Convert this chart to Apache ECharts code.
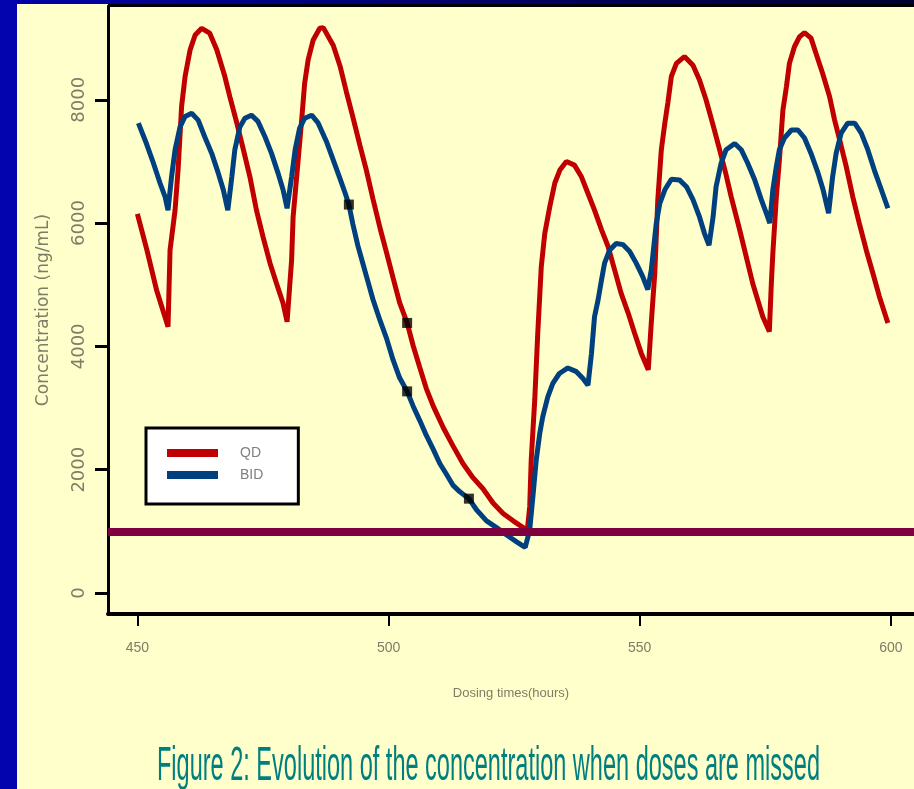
<!DOCTYPE html>
<html>
<head>
<meta charset="utf-8">
<script src="https://cdn.jsdelivr.net/npm/echarts@6/dist/echarts.min.js"></script>
<style>
html, body { margin: 0; padding: 0; background: #FFFFCC; }
#chart { width: 914px; height: 789px; }
</style>
</head>
<body>
<div id="chart"></div>
<script>
// QD (once daily) - hours / concentration
var qdHours = [450.0, 451.9, 453.8, 456.1, 456.5, 457.5, 458.1, 458.8, 459.5, 460.5, 461.5, 462.8, 464.4, 465.8, 467.4, 468.4, 469.8, 471.1, 472.4, 473.7, 475.0, 476.4, 477.7, 479.0, 479.8,
	480.7, 481.0, 482.0, 482.7, 483.3, 484.0, 485.0, 486.3, 487.0, 489.0, 490.4, 491.6, 492.9, 494.3, 495.6, 496.9, 498.3, 499.6, 500.9, 502.2, 503.7, 504.9, 506.2, 507.5, 508.9,
	510.9, 512.8, 514.8, 516.8, 518.8, 520.8, 522.8, 524.8, 526.8, 527.6, 528.1, 528.4, 529.1, 529.7, 530.4, 531.1, 532.1, 533.1, 534.1, 535.4, 537.0, 538.4, 539.7, 541.0,
	542.4, 543.7, 545.0, 546.3, 547.7, 549.0, 550.3, 551.7, 552.3, 553.0, 553.6, 554.3, 555.0, 555.6, 556.3, 557.3, 558.9, 560.6, 561.9, 563.2, 564.6, 565.9, 567.2, 568.2,
	569.9, 572.5, 574.5, 575.8, 576.2, 576.5, 577.2, 577.8, 578.5, 579.2, 579.8, 580.8, 581.8, 582.8, 584.1, 585.1, 586.4, 587.8, 588.8, 589.8, 591.1, 592.4, 593.7, 595.1,
	596.4, 597.7, 599.4];
var qdConc = [6150, 5560, 4920, 4320, 5560, 6210, 6860, 7890, 8380, 8810, 9050, 9160, 9080, 8810, 8380, 8050, 7620, 7190, 6750, 6210, 5780, 5350, 5020, 4700, 4400,
	5400, 6100, 7020, 7670, 8270, 8650, 8970, 9160, 9170, 8880, 8530, 8130, 7720, 7260, 6850, 6390, 5920, 5520, 5110, 4710, 4380, 4010, 3660, 3320, 3030,
	2680, 2390, 2100, 1870, 1690, 1460, 1290, 1170, 1060, 1000, 1400, 2160, 3130, 4210, 5290, 5830, 6270, 6650, 6860, 7000, 6940, 6750, 6480, 6210,
	5890, 5620, 5240, 4860, 4540, 4210, 3890, 3620, 4380, 5190, 6380, 7190, 7620, 7950, 8380, 8590, 8700, 8560, 8320, 8000, 7590, 7190, 6780, 6430,
	5890, 5020, 4480, 4240, 5020, 5510, 6430, 7020, 7830, 8210, 8590, 8860, 9020, 9090, 9000, 8750, 8430, 8050, 7670, 7350, 6920, 6430, 6000, 5560,
	5190, 4810, 4380];

// BID (twice daily)
var bidHours = [450.2, 451.8, 453.2, 454.5, 455.5, 456.1, 456.8, 457.5, 458.5, 459.5, 460.8, 462.1, 463.4, 464.8, 466.1, 467.1, 468.0, 468.8, 469.4, 470.4, 471.4, 472.7, 474.0, 475.4, 476.7,
	478.0, 479.0, 479.8, 480.7, 481.4, 482.3, 483.3, 484.7, 486.0, 487.7, 489.0, 490.3, 491.3, 492.1, 492.9, 493.9, 494.9, 495.9, 496.9, 498.3, 499.6, 500.9, 502.2, 503.7,
	504.9, 506.2, 507.5, 508.9, 510.2, 511.5, 512.8, 514.2, 516.0, 517.5, 519.5, 521.5, 523.5, 525.5, 527.2, 528.1, 528.8, 529.4, 530.1, 530.7, 531.7, 532.7, 534.0, 535.7,
	537.4, 538.7, 539.7, 540.4, 541.0, 541.7, 542.4, 543.0, 544.0, 545.3, 546.7, 548.0, 549.3, 550.6, 551.6, 552.3, 552.8, 553.3, 554.0, 555.0, 556.3, 557.9, 559.3, 560.6,
	561.9, 562.9, 563.8, 564.6, 565.2, 566.2, 567.2, 568.9, 570.2, 571.5, 572.9, 574.2, 575.2, 575.9, 576.5, 577.2, 577.8, 578.8, 580.2, 581.5, 582.8, 584.1, 585.5, 586.5,
	587.6, 588.4, 589.1, 590.1, 591.4, 592.8, 594.1, 595.4, 596.7, 598.1, 599.4];
var bidConc = [7620, 7290, 6970, 6650, 6430, 6210, 6750, 7190, 7560, 7730, 7780, 7670, 7400, 7130, 6810, 6540, 6210, 6750, 7190, 7560, 7700, 7750, 7650, 7400, 7130,
	6810, 6540, 6240, 6750, 7190, 7540, 7700, 7750, 7620, 7310, 7020, 6730, 6500, 6300, 5980, 5630, 5340, 5050, 4760, 4420, 4130, 3780, 3490, 3270,
	3030, 2800, 2560, 2330, 2100, 1930, 1750, 1640, 1530, 1350, 1170, 1060, 940, 830, 740, 1020, 1620, 2160, 2590, 2860, 3180, 3400, 3560, 3650,
	3590, 3480, 3370, 3890, 4480, 4750, 5080, 5350, 5560, 5670, 5650, 5540, 5350, 5130, 4920, 5240, 5620, 6000, 6320, 6540, 6710, 6700, 6590, 6380,
	6100, 5830, 5640, 6100, 6590, 6970, 7190, 7290, 7190, 6970, 6700, 6380, 6160, 6000, 6540, 6920, 7190, 7380, 7510, 7510, 7380, 7130, 6810, 6540,
	6160, 6750, 7130, 7460, 7620, 7620, 7460, 7190, 6860, 6540, 6240];

// missed doses (black squares)
var missedQD = [[503.7, 4380]];
var missedBID = [[492.1, 6300], [503.7, 3270], [516.0, 1530]];

// target concentration line
var thresholdConc = 1000;

var xTicks = [450, 500, 550, 600];
var yTicks = [0, 2000, 4000, 6000, 8000];

function zip(xs, ys) {
	var out = [];
	for (var i = 0; i < xs.length; i++) {
		out.push([xs[i], ys[i]]);
	}
	return out;
}

var labelColor = '#7d7d66';
var sans = "'Liberation Sans', Arial, sans-serif";

// 标题：原图被纵向拉伸，用缩放的文字来模仿
var titleText = 'Figure 2: Evolution of the concentration when doses are missed';
var titleFont = '24px ' + sans;
var ctx = document.createElement('canvas').getContext('2d');
ctx.font = titleFont;
var titleScaleX = 663 / ctx.measureText(titleText).width;

var chart = echarts.init(document.getElementById('chart'));
chart.setOption({
	backgroundColor : '#FFFFCC',
	animation : false,
	legend : {
		data : [ 'QD', 'BID' ],
		orient : 'vertical',
		left : 146,
		top : 428,
		padding : [ 18, 35, 22, 21 ],
		itemGap : 8,
		itemWidth : 51,
		itemHeight : 8,
		icon : 'rect',
		backgroundColor : '#ffffff',
		borderColor : '#000000',
		borderWidth : 3,
		textStyle : {
			color : '#808080',
			fontFamily : sans,
			fontSize : 14,
			padding : [ 0, 0, 0, 17 ]
		}
	},
	grid : {
		left : 108,
		right : 0,
		top : 6,
		bottom : 175
	},
	xAxis : {
		type : 'value',
		min : 444.15,
		max : 604.6,
		name : 'Dosing times(hours)',
		nameLocation : 'middle',
		nameGap : 73,
		nameTextStyle : {
			color : labelColor,
			fontFamily : sans,
			fontSize : 13
		},
		axisLine : {
			onZero : false,
			lineStyle : { color : '#000', width : 4 }
		},
		axisTick : {
			customValues : xTicks,
			length : 12,
			lineStyle : { color : '#000', width : 2 }
		},
		axisLabel : {
			customValues : xTicks,
			margin : 27,
			color : labelColor,
			fontFamily : sans,
			fontSize : 14
		},
		splitLine : { show : false }
	},
	yAxis : {
		type : 'value',
		min : -341,
		max : 9521,
		name : 'Concentration (ng/mL)',
		nameLocation : 'middle',
		nameGap : 56,
		nameTextStyle : {
			color : labelColor,
			fontFamily : 'DejaVu Sans',
			fontSize : 17
		},
		axisLine : {
			onZero : false,
			lineStyle : { color : '#000', width : 3 }
		},
		axisTick : {
			customValues : yTicks,
			length : 13,
			lineStyle : { color : '#000', width : 3 }
		},
		axisLabel : {
			customValues : yTicks,
			rotate : 90,
			margin : 20,
			color : labelColor,
			fontFamily : 'DejaVu Sans',
			fontSize : 18,
			formatter : function(value) {
				return String(value);
			}
		},
		splitLine : { show : false }
	},
	graphic : [ {
		type : 'rect',
		shape : { x : 0, y : 0, width : 914, height : 4 },
		style : {
			fill : new echarts.graphic.LinearGradient(0, 0, 1, 0, [
				{ offset : 0, color : '#0000a8' },
				{ offset : 1, color : '#000030' } ])
		},
		z : 100
	}, {
		type : 'rect',
		shape : { x : 108, y : 4, width : 806, height : 3 },
		style : { fill : '#000' },
		z : 100
	}, {
		type : 'rect',
		shape : { x : 0, y : 0, width : 17, height : 789 },
		style : { fill : '#0404ae' },
		z : 101
	}, {
		type : 'text',
		x : 157,
		y : 766,
		scaleX : titleScaleX,
		scaleY : 2.04,
		style : {
			text : titleText,
			x : 0,
			y : 0,
			font : titleFont,
			fill : '#007f7f',
			align : 'left',
			verticalAlign : 'middle'
		},
		z : 100
	} ],
	series : [ {
		name : 'target',
		type : 'line',
		data : [],
		z : 1,
		markLine : {
			silent : true,
			symbol : [ 'none', 'none' ],
			label : { show : false },
			lineStyle : { color : '#7f003f', width : 8, type : 'solid' },
			data : [ { yAxis : thresholdConc } ]
		}
	}, {
		name : 'QD',
		type : 'line',
		data : zip(qdHours, qdConc),
		showSymbol : false,
		symbol : 'none',
		z : 3,
		itemStyle : { color : '#c00000' },
		lineStyle : { color : '#c00000', width : 5 }
	}, {
		name : 'BID',
		type : 'line',
		data : zip(bidHours, bidConc),
		showSymbol : false,
		symbol : 'none',
		z : 4,
		itemStyle : { color : '#00407f' },
		lineStyle : { color : '#00407f', width : 5 }
	}, {
		name : 'missed',
		type : 'scatter',
		data : missedQD.concat(missedBID),
		symbol : 'rect',
		symbolSize : 10,
		z : 5,
		itemStyle : { color : '#000' }
	} ]
});
</script>
</body>
</html>
